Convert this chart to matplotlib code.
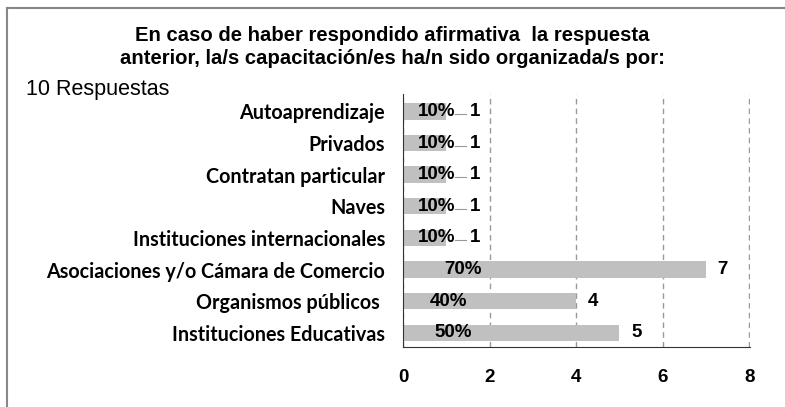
import matplotlib
matplotlib.use("Agg")
import matplotlib.pyplot as plt
from matplotlib.lines import Line2D

categorias = ["Instituciones Educativas", "Organismos públicos ", "Asociaciones y/o Cámara de Comercio",
              "Instituciones internacionales", "Naves", "Contratan particular", "Privados", "Autoaprendizaje"]
respuestas = [5, 4, 7, 1, 1, 1, 1, 1]
porcentajes = ["50%", "40%", "70%", "10%", "10%", "10%", "10%", "10%"]
ticks = [0, 2, 4, 6, 8]
titulo = ["En caso de haber respondido afirmativa  la respuesta",
          "anterior, la/s capacitación/es ha/n sido organizada/s por:"]

# posicion x de las etiquetas de porcentaje (como en el original de excel)
pct_x = [1.17, 1.06, 1.38, 0.78, 0.78, 0.78, 0.78, 0.78]

fig = plt.figure(figsize=(7.85, 4.07), dpi=100)
ax = fig.add_axes([403/785, 1-347/407, 347/785, 253/407])

y = range(len(categorias))
ax.barh(y, respuestas, height=0.52, color="#c0c0c0", zorder=2)
ax.set_xlim(0, 8.02)
ax.set_ylim(-0.45, len(categorias) - 0.45)
ax.set_xticks(ticks)
ax.set_xticklabels([str(t) for t in ticks], fontsize=13.5, fontweight="bold", family="Liberation Sans")
ax.set_yticks(list(y))
ax.set_yticklabels(categorias, fontsize=14.2, fontweight="bold", family="Lato")
ax.tick_params(axis="both", length=0)
ax.tick_params(axis="x", pad=16)
ax.tick_params(axis="y", pad=13)
ax.xaxis.grid(True, linestyle=(0, (4, 3)), color="#999999", linewidth=1, zorder=0)
for s in ["top", "right"]:
    ax.spines[s].set_visible(False)
ax.spines["left"].set_color("#333333")
ax.spines["bottom"].set_color("#333333")

for i, v in enumerate(respuestas):
    ax.text(pct_x[i], i, porcentajes[i], ha="center", va="center", fontsize=13.5,
            fontweight="bold", family="Liberation Sans", zorder=3)
    if v == 1:
        # etiqueta desplazada con linea guia
        ax.plot([1.2, 1.45], [i - 0.08, i - 0.08], color="#999999", lw=0.8, zorder=3)
        ax.text(1.66, i, str(v), ha="center", va="center", fontsize=13.5,
                fontweight="bold", family="Liberation Sans", zorder=3)
    else:
        ax.text(v + 0.39, i, str(v), ha="center", va="center", fontsize=13.5,
                fontweight="bold", family="Liberation Sans", zorder=3)

fig.text(392/785, 1-41/407, titulo[0], ha="center", va="baseline", fontsize=14.6,
         fontweight="bold", family="Liberation Sans")
fig.text(392/785, 1-64/407, titulo[1], ha="center", va="baseline", fontsize=14.6,
         fontweight="bold", family="Liberation Sans")
fig.text(26/785, 1-95/407, "10 Respuestas", ha="left", va="baseline", fontsize=15.5, family="Liberation Sans")

# marco
fig.add_artist(Line2D([7/785, 7/785], [0, 1-8/407], color="#888888", lw=1.5, transform=fig.transFigure))
fig.add_artist(Line2D([7/785, 1], [1-8/407, 1-8/407], color="#888888", lw=1.5, transform=fig.transFigure))

fig.savefig("out.png", dpi=100)
